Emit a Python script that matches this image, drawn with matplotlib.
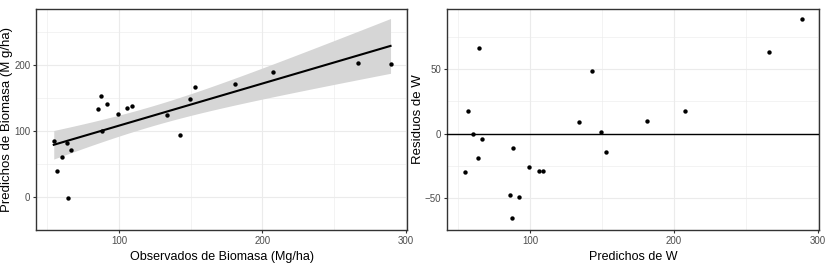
import numpy as np
import matplotlib.pyplot as plt

plt.rcParams["font.family"] = ["Liberation Sans", "DejaVu Sans"]

# ===== Data =====
observados = [54.4, 56.5, 60.2, 63.3, 64.2, 66.5, 85.6, 87.4, 88.1, 91.9, 99.1,
              105.8, 108.8, 133.7, 142.8, 149.5, 152.8, 181.2, 207.4, 266.5, 289.5]
predichos = [84.6, 38.9, 60.6, 82.4, -2.3, 71.5, 133.0, 153.4, 99.1, 141.2, 124.9,
             135.3, 137.6, 124.4, 94.1, 148.4, 166.5, 171.5, 189.6, 202.7, 200.5]
residuos = [-30.2, 17.4, -0.4, -19.1, 66.5, -4.5, -47.5, -66.0, -11.0, -49.5, -25.8,
            -29.0, -29.0, 9.3, 48.7, 1.0, -14.0, 9.7, 17.8, 63.6, 89.2]

X_TICKS = [100, 200, 300]
Y_TICKS_LEFT = [0, 100, 200]
Y_TICKS_RIGHT = [-50, 0, 50]

T_CRIT = 2.093  # t(0.975, df=19)

GRID_COLOR = "#ebebeb"
BORDER_COLOR = "#333333"
TICK_COLOR = "#4d4d4d"
BAND_COLOR = "#d6d6d6"


def style_axes(ax, xticks, yticks, xlim, ylim):
    ax.set_xlim(*xlim)
    ax.set_ylim(*ylim)
    ax.set_xticks(xticks)
    ax.set_yticks(yticks)
    step = yticks[1] - yticks[0]
    ax.set_xticks([t - 50 for t in xticks], minor=True)
    ax.set_yticks([t - step / 2 for t in yticks] + [yticks[-1] + step / 2], minor=True)
    ax.grid(True, which="major", color=GRID_COLOR, linewidth=0.8)
    ax.grid(True, which="minor", color=GRID_COLOR, linewidth=0.4)
    ax.set_axisbelow(True)
    for spine in ax.spines.values():
        spine.set_color(BORDER_COLOR)
        spine.set_linewidth(1.0)
    ax.tick_params(which="major", length=2.5, color=BORDER_COLOR, labelsize=7,
                   labelcolor=TICK_COLOR, pad=1.5)
    ax.tick_params(which="minor", length=0)


fig = plt.figure(figsize=(8.25, 2.7), dpi=100)

# ----- Left panel: observed vs predicted with lm fit -----
ax1 = fig.add_axes([36 / 825, 40 / 270, 371 / 825, 221 / 270])
x = np.array(observados)
y = np.array(predichos)
slope, intercept = np.polyfit(x, y, 1)
n = len(x)
resid = y - (slope * x + intercept)
s = np.sqrt(np.sum(resid ** 2) / (n - 2))
x_fit = np.linspace(x.min(), x.max(), 80)
y_fit = slope * x_fit + intercept
se = s * np.sqrt(1 / n + (x_fit - x.mean()) ** 2 / np.sum((x - x.mean()) ** 2))
ax1.fill_between(x_fit, y_fit - T_CRIT * se, y_fit + T_CRIT * se,
                 color=BAND_COLOR, linewidth=0, zorder=2)
ax1.plot(x_fit, y_fit, color="black", linewidth=1.5, zorder=3)
ax1.scatter(observados, predichos, s=10, color="black", zorder=4, linewidths=0)
style_axes(ax1, X_TICKS, Y_TICKS_LEFT, (42, 301), (-15.5, 284.5))
ax1.set_xlabel("Observados de Biomasa (Mg/ha)", fontsize=9)
ax1.set_ylabel("Predichos de Biomasa (M g/ha)", fontsize=9.5)
ax1.xaxis.set_label_coords(0.5, -0.095)
ax1.yaxis.set_label_coords(-0.062, 0.5)

# ----- Right panel: residuals -----
ax2 = fig.add_axes([447 / 825, 40 / 270, 372 / 825, 221 / 270])
ax2.axhline(0, color="black", linewidth=1.0, zorder=3)
ax2.scatter(observados, residuos, s=10, color="black", zorder=4, linewidths=0)
style_axes(ax2, X_TICKS, Y_TICKS_RIGHT, (42, 301), (-72.8, 96.9))
ax2.set_xlabel("Predichos de W", fontsize=9)
ax2.set_ylabel("Residuos de W", fontsize=9.5)
ax2.xaxis.set_label_coords(0.5, -0.095)
ax2.yaxis.set_label_coords(-0.062, 0.5)

fig.savefig("out.png", dpi=100)
